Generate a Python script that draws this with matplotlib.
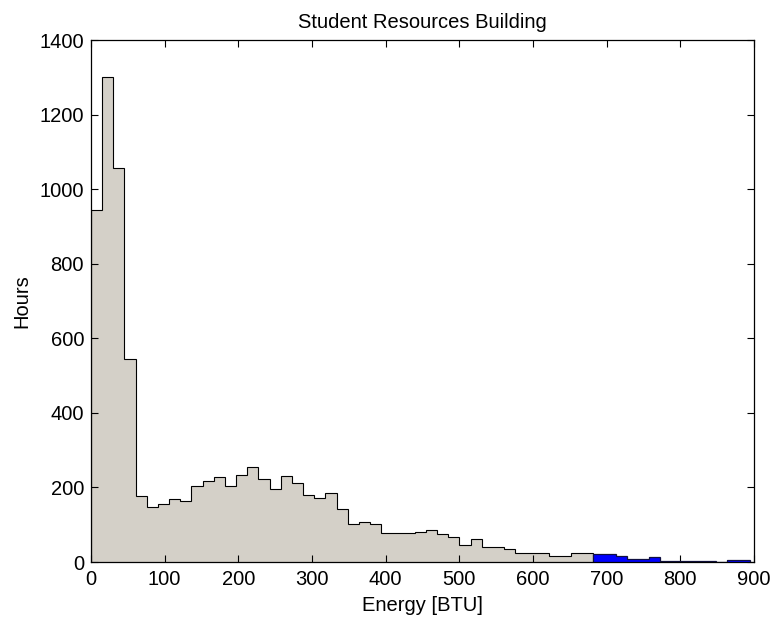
import numpy as np
import matplotlib
matplotlib.use("Agg")
import matplotlib.pyplot as plt

# Histogram data (hours per energy bin)
bin_edges = np.linspace(0, 894, 60)  # 59 bins
counts = [945, 1300, 1057, 545, 176, 148, 156, 168, 164, 204,
          217, 229, 205, 233, 254, 223, 197, 230, 213, 179,
          172, 184, 143, 102, 106, 103, 78, 78, 78, 81,
          86, 75, 66, 46, 61, 41, 40, 36, 25, 25,
          25, 17, 17, 25, 25, 21, 21, 15, 8, 8,
          13, 4, 4, 4, 4, 4, 1, 6, 6]
split_index = 45  # bins from here on are highlighted

title = "Student Resources Building"
xlabel = "Energy [BTU]"
ylabel = "Hours"
xticks = [0, 100, 200, 300, 400, 500, 600, 700, 800, 900]
yticks = [0, 200, 400, 600, 800, 1000, 1200, 1400]

plt.rcParams['font.family'] = ['Liberation Sans', 'DejaVu Sans']

fig = plt.figure(figsize=(7.72, 6.17), dpi=100)
ax = fig.add_axes([91/772, 55/617, 663/772, 522/617])

counts = np.asarray(counts, dtype=float)
gray = (0.831, 0.816, 0.784)
ax.stairs(counts[:split_index], bin_edges[:split_index + 1], fill=True,
          facecolor=gray, edgecolor='none', baseline=0, zorder=1)
ax.stairs(counts[:split_index], bin_edges[:split_index + 1], fill=False,
          edgecolor='black', linewidth=0.8, baseline=0, zorder=2)
ax.stairs(counts[split_index:], bin_edges[split_index:], fill=True,
          facecolor=(0, 0, 1), edgecolor='none', baseline=0, zorder=3)
ax.stairs(counts[split_index:], bin_edges[split_index:], fill=False,
          edgecolor='#101040', linewidth=0.9, baseline=0, zorder=4)

ax.set_xlim(0, 900)
ax.set_ylim(0, 1400)
ax.set_xticks(xticks)
ax.set_yticks(yticks)
ax.tick_params(direction='in', length=5, width=0.8, top=True, right=True,
               labelsize=14.5)
ax.tick_params(axis='x', pad=6)
ax.tick_params(axis='y', pad=5)
for sp in ax.spines.values():
    sp.set_linewidth(0.9)
    sp.set_zorder(5)
ax.set_axisbelow(False)

ax.set_title(title, fontsize=14.5, pad=9)
ax.set_xlabel(xlabel, fontsize=14.5, labelpad=5)
ax.set_ylabel(ylabel, fontsize=14.5, labelpad=6)

fig.savefig("out.png", dpi=100)
